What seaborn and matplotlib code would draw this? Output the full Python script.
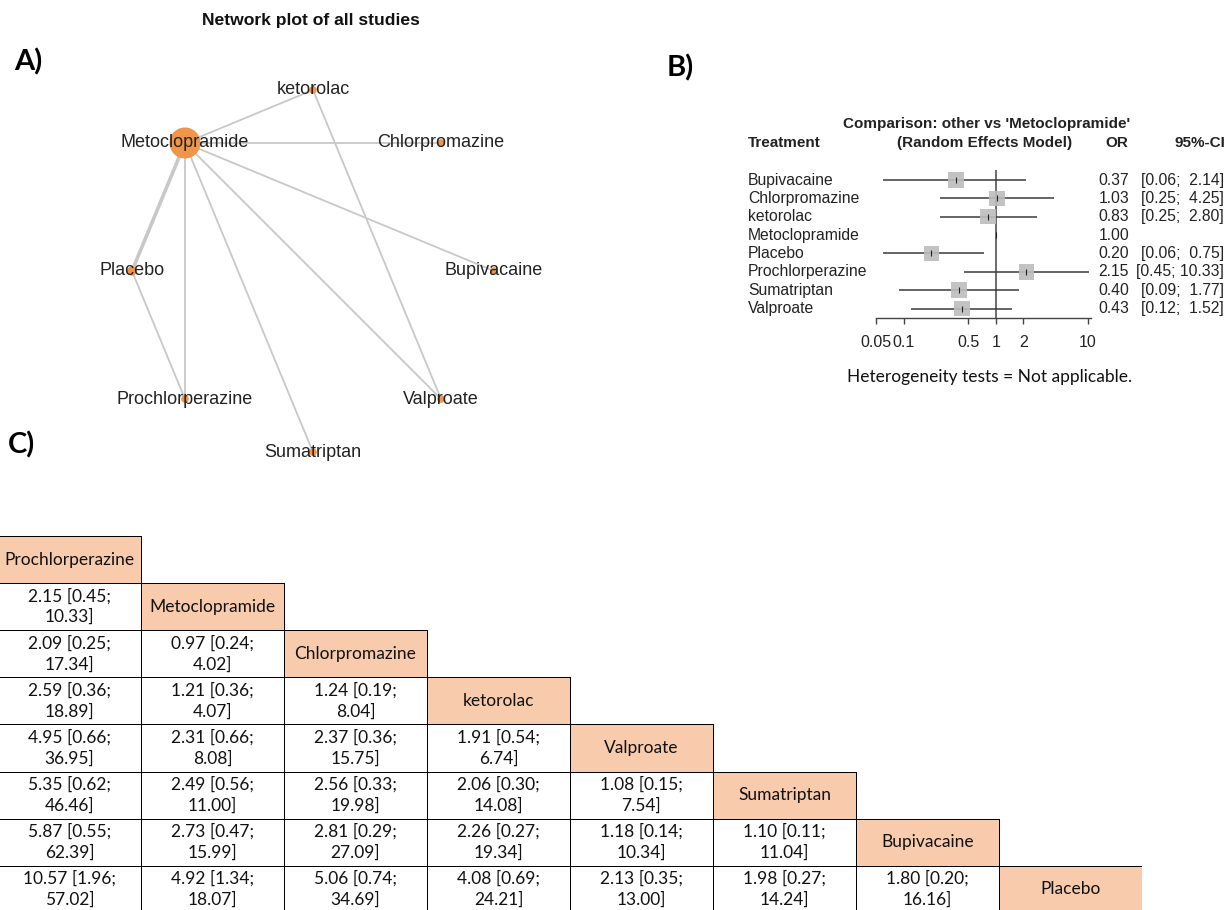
import numpy as np
import pandas as pd
import matplotlib
matplotlib.use('Agg')
import matplotlib.pyplot as plt
import matplotlib.transforms as mtransforms
from matplotlib.colors import ListedColormap
import seaborn as sns

# ---- A) network data ----
nodes = ['ketorolac', 'Chlorpromazine', 'Bupivacaine', 'Valproate',
         'Sumatriptan', 'Prochlorperazine', 'Placebo', 'Metoclopramide']
node_weight = [1, 1, 1, 1, 1, 1, 1.3, 10]
edge_from = ['Metoclopramide'] * 7 + ['ketorolac', 'Placebo']
edge_to = ['ketorolac', 'Chlorpromazine', 'Bupivacaine', 'Placebo',
           'Prochlorperazine', 'Sumatriptan', 'Valproate',
           'Valproate', 'Prochlorperazine']
edge_studies = [1, 1, 1, 2, 1, 1, 1, 1, 1]

# ---- B) forest data (other vs Metoclopramide) ----
forest_trt = ['Bupivacaine', 'Chlorpromazine', 'ketorolac', 'Metoclopramide',
              'Placebo', 'Prochlorperazine', 'Sumatriptan', 'Valproate']
forest_or = [0.37, 1.03, 0.83, 1.00, 0.20, 2.15, 0.40, 0.43]
forest_lo = [0.06, 0.25, 0.25, np.nan, 0.06, 0.45, 0.09, 0.12]
forest_hi = [2.14, 4.25, 2.80, np.nan, 0.75, 10.33, 1.77, 1.52]
axis_ticks = [0.05, 0.1, 0.5, 1, 2, 10]
axis_labels = ['0.05', '0.1', '0.5', '1', '2', '10']

# ---- C) league table ----
league_trt = ['Prochlorperazine', 'Metoclopramide', 'Chlorpromazine', 'ketorolac',
              'Valproate', 'Sumatriptan', 'Bupivacaine', 'Placebo']
league_est = [[],
              [2.15],
              [2.09, 0.97],
              [2.59, 1.21, 1.24],
              [4.95, 2.31, 2.37, 1.91],
              [5.35, 2.49, 2.56, 2.06, 1.08],
              [5.87, 2.73, 2.81, 2.26, 1.18, 1.10],
              [10.57, 4.92, 5.06, 4.08, 2.13, 1.98, 1.80]]
league_lo = [[],
             [0.45],
             [0.25, 0.24],
             [0.36, 0.36, 0.19],
             [0.66, 0.66, 0.36, 0.54],
             [0.62, 0.56, 0.33, 0.30, 0.15],
             [0.55, 0.47, 0.29, 0.27, 0.14, 0.11],
             [1.96, 1.34, 0.74, 0.69, 0.35, 0.27, 0.20]]
league_hi = [[],
             [10.33],
             [17.34, 4.02],
             [18.89, 4.07, 8.04],
             [36.95, 8.08, 15.75, 6.74],
             [46.46, 11.00, 19.98, 14.08, 7.54],
             [62.39, 15.99, 27.09, 19.34, 10.34, 11.04],
             [57.02, 18.07, 34.69, 24.21, 13.00, 14.24, 16.16]]

W, H = 1226, 910
plt.rcParams['font.family'] = ['Liberation Sans', 'DejaVu Sans']
fig = plt.figure(figsize=(W / 100, H / 100), dpi=100)


def box(l, t, r, b):
    return [l / W, 1 - b / H, (r - l) / W, (b - t) / H]


def fpos(x, y):
    return x / W, 1 - y / H


# ================= A) network plot =================
ax_net = fig.add_axes(box(313 - 254, 271 - 254, 313 + 254, 271 + 254))
ang = np.deg2rad(90 - 45 * np.arange(len(nodes)))
nd = pd.DataFrame({'name': nodes, 'x': np.cos(ang), 'y': np.sin(ang), 'w': node_weight})
pos = nd.set_index('name')[['x', 'y']]
for a, b, n in zip(edge_from, edge_to, edge_studies):
    ax_net.plot([pos.loc[a, 'x'], pos.loc[b, 'x']], [pos.loc[a, 'y'], pos.loc[b, 'y']],
                color='#c8c8c8', lw=1.3 * n, zorder=1, solid_capstyle='round')
sns.scatterplot(data=nd, x='x', y='y', size='w', sizes=(30, 500), color='#f0964a',
                edgecolor='none', legend=False, zorder=2, ax=ax_net)
for _, r in nd.iterrows():
    ax_net.text(r['x'], r['y'], r['name'], ha='center', va='center', fontsize=13,
                color='#222222', zorder=3)
ax_net.set_xlim(-1.403, 1.403)
ax_net.set_ylim(-1.403, 1.403)
ax_net.set_axis_off()
fig.text(*fpos(311, 21), 'Network plot of all studies', ha='center', va='center',
         fontsize=12.6, fontweight='bold', color='#111111')

# ================= B) forest plot =================
ax_f = fig.add_axes(box(876, 170, 1091, 318))
rows = np.arange(len(forest_trt))
fd = pd.DataFrame({'trt': forest_trt, 'or': forest_or, 'lo': forest_lo,
                   'hi': forest_hi, 'row': rows})
ax_f.set_xscale('log')
ax_f.axvline(1, color='#444444', lw=1.1, zorder=1)
ci = fd.dropna()
ax_f.hlines(ci['row'], ci['lo'], ci['hi'], color='#3a3a3a', lw=1.1, zorder=2)
sns.scatterplot(data=ci, x='or', y='row', marker='s', s=125, color='#bdbdbd',
                edgecolor='none', alpha=0.9, legend=False, zorder=3, ax=ax_f)
ax_f.scatter(fd['or'], fd['row'], marker='|', s=20, color='#222222', lw=0.8, zorder=4)
ax_f.set_xlim(0.05, 10.86)
ax_f.set_ylim(7.517, -0.545)
ax_f.set_xticks(axis_ticks)
ax_f.set_xticklabels(axis_labels)
ax_f.minorticks_off()
ax_f.set_yticks([])
ax_f.set_xlabel('')
ax_f.set_ylabel('')
for s in ['left', 'top', 'right']:
    ax_f.spines[s].set_visible(False)
ax_f.spines['bottom'].set_color('#444444')
ax_f.spines['bottom'].set_linewidth(1.0)
ax_f.tick_params(axis='x', direction='out', length=4.5, width=1.0, color='#444444',
                 labelsize=11.5, labelcolor='#222222', pad=8)
ax_f.patch.set_alpha(0)

tr = mtransforms.blended_transform_factory(fig.transFigure, ax_f.transData)
for _, r in fd.iterrows():
    ax_f.text(748 / W, r['row'], r['trt'], transform=tr, ha='left', va='center',
              fontsize=11.3, color='#222222')
    ax_f.text(1129 / W, r['row'], f"{r['or']:.2f}", transform=tr, ha='right',
              va='center', fontsize=11.3, color='#222222')
    if not np.isnan(r['lo']):
        ax_f.text(1224 / W, r['row'], f"[{r['lo']:.2f}; {r['hi']:5.2f}]", transform=tr,
                  ha='right', va='center', fontsize=11.3, color='#222222')

hdr = dict(va='center', fontsize=11, fontweight='bold', color='#222222')
fig.text(*fpos(987, 124), "Comparison: other vs 'Metoclopramide'", ha='center', **hdr)
fig.text(*fpos(748, 143), 'Treatment', ha='left', **hdr)
fig.text(*fpos(985, 143), '(Random Effects Model)', ha='center', **hdr)
fig.text(*fpos(1117, 143), 'OR', ha='center', **hdr)
fig.text(*fpos(1225, 143), '95%-CI', ha='right', **hdr)
fig.text(*fpos(990, 377), 'Heterogeneity tests = Not applicable.', ha='center',
         va='center', fontsize=12.5, family='Lato', color='#111111')

# ================= C) league table =================
n = len(league_trt)
vals = np.zeros((n, n))
labels = np.full((n, n), '', dtype=object)
for i in range(n):
    vals[i, i] = 1
    labels[i, i] = league_trt[i]
    for j in range(i):
        labels[i, j] = (f"{league_est[i][j]:.2f} [{league_lo[i][j]:.2f};\n"
                        f"{league_hi[i][j]:.2f}]")
mask = np.triu(np.ones((n, n), dtype=bool), k=1)

ax_t = fig.add_axes(box(-2, 536, 1142, 536 + 8 * 47.1))
sns.heatmap(vals, mask=mask, cmap=ListedColormap(['white', '#f8cbad']), vmin=0, vmax=1,
            annot=labels, fmt='', cbar=False, linewidths=0.55, linecolor='black',
            xticklabels=False, yticklabels=False, ax=ax_t,
            annot_kws={'fontsize': 12.5, 'family': 'Lato', 'color': '#111111',
                       'linespacing': 1.35})
mesh = ax_t.collections[0]
edge_rgba = np.zeros((n * n, 4))
edge_rgba[~mask.ravel()] = (0, 0, 0, 1)
mesh.set_edgecolors(edge_rgba)
ax_t.tick_params(length=0)

# panel letters
for lab, (x, y) in zip(['A)', 'B)', 'C)'], [(28, 62), (680, 68), (22, 445)]):
    fig.text(*fpos(x, y), lab, ha='center', va='center', fontsize=21,
             fontweight='bold', family='Lato', color='black')

fig.savefig('out.png', dpi=100)
